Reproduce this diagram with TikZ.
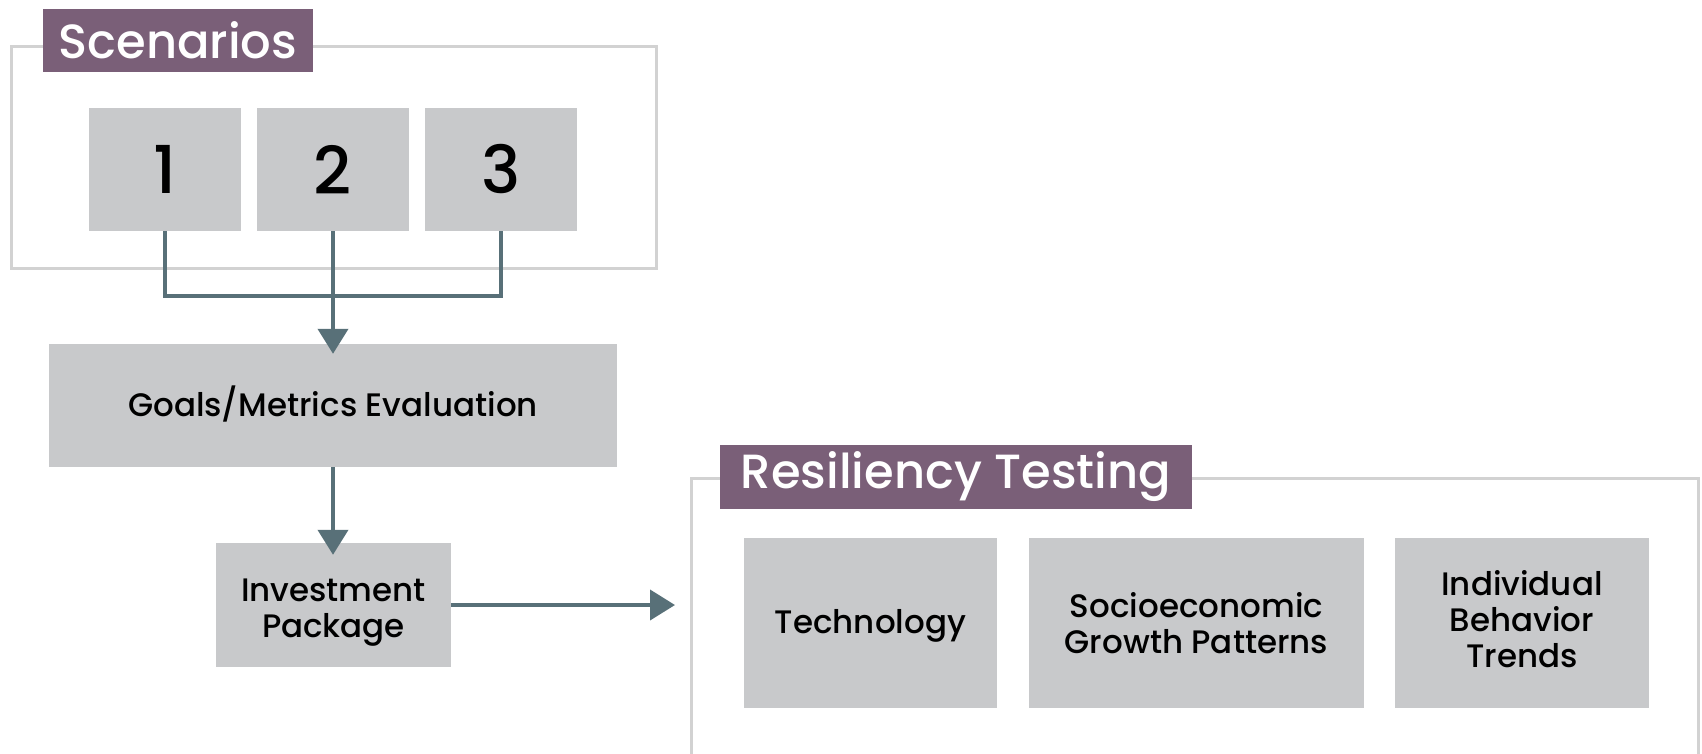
\documentclass[tikz,border=0pt]{standalone}
\usepackage{fontspec}
\setmainfont{Poppins Medium}
\usepackage{tikz}
\usetikzlibrary{arrows.meta, positioning}
\usepackage{xcolor}
\definecolor{plum}{RGB}{122,95,120}
\definecolor{boxgray}{RGB}{200,201,203}
\definecolor{framegray}{RGB}{210,210,210}
\definecolor{slate}{RGB}{88,112,120}

\begin{document}
\begin{tikzpicture}[x=1pt, y=-1pt,
    frame/.style={draw=framegray, line width=3pt},
    tag/.style={fill=plum, text=white, inner sep=0pt,
                font=\fontsize{48}{56}\selectfont},
    blocktext/.style={align=center, inner sep=0pt,
                      font=\fontsize{32.5}{36}\selectfont},
    block/.style={fill=boxgray, blocktext},
    digit/.style={block, font=\fontsize{66}{70}\selectfont},
    link/.style={draw=slate, line width=4pt},
    flow/.style={link, -{Triangle[length=25pt, width=30pt]}}]
  \useasboundingbox (0,0) rectangle (1702,753);
  % scenarios frame
  \draw[frame] (11,46) rectangle (656,268);
  \node[tag, minimum width=270pt, minimum height=63pt]
    (scentag) at (178,40.5) {Scenarios};
  \node[digit, minimum width=152pt, minimum height=123pt]
    (s1) at (165,169.5) {1};
  \node[digit, minimum width=152pt, minimum height=123pt]
    (s2) at (333,169.5) {2};
  \node[digit, minimum width=152pt, minimum height=123pt]
    (s3) at (501,169.5) {3};
  % evaluation and package
  \node[block, minimum width=568pt, minimum height=123pt,
        label={[blocktext, yshift=1.5pt]center:Goals/Metrics Evaluation}]
    (goals) at (333,405.5) {};
  \node[block, minimum width=235pt, minimum height=124pt,
        label={[blocktext, yshift=-8pt]center:{Investment\\Package}}]
    (invest) at (333.5,605) {};
  % resiliency testing frame
  \draw[frame] (691,478) rectangle (1698,780);
  \node[tag, minimum width=472pt, minimum height=64pt]
    (restag) at (956,477) {Resiliency Testing};
  \node[block, minimum width=253pt, minimum height=170pt,
        label={[blocktext, yshift=-3pt]center:Technology}]
    (tech) at (870.5,623) {};
  \node[block, minimum width=335pt, minimum height=170pt]
    (socio) at (1196.5,623) {Socioeconomic\\Growth Patterns};
  \node[block, minimum width=254pt, minimum height=170pt,
        label={[blocktext, yshift=4pt]center:{Individual\\Behavior\\Trends}}]
    (indiv) at (1522,623) {};
  % connectors
  \coordinate (join) at (333,296);
  \coordinate (resin) at (675,605);
  \draw[link] (s1.south) |- (join) -| (s3.south);
  \draw[flow, shorten >=-10pt] (s2.south) -- (goals.north);
  \draw[flow, shorten >=-12pt] (goals.south) -- (invest.north -| goals.south);
  \draw[flow] (invest.east) -- (resin);
\end{tikzpicture}
\end{document}
